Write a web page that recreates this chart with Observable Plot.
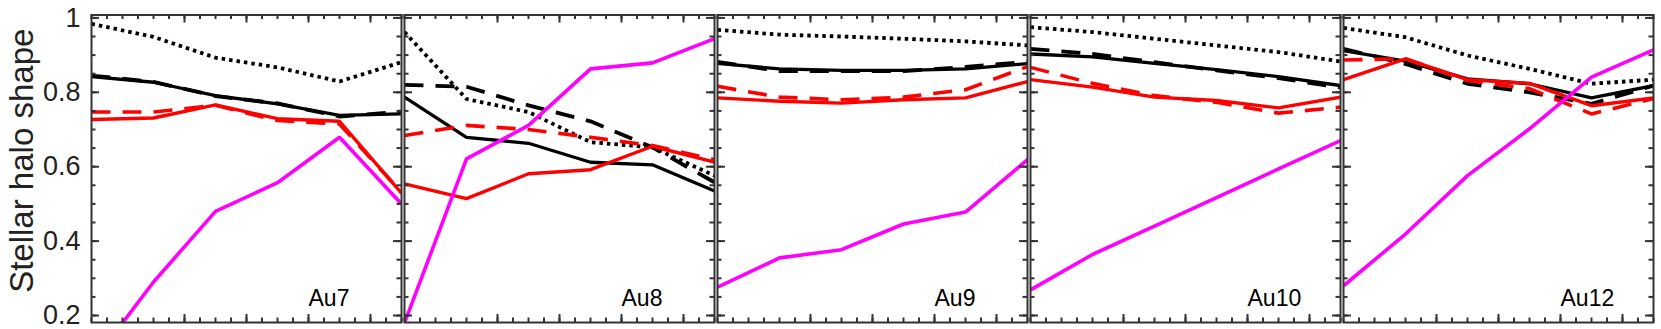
<!DOCTYPE html>
<html>
<head>
<meta charset="utf-8">
<script src="https://cdn.jsdelivr.net/npm/d3@7"></script>
<script src="https://cdn.jsdelivr.net/npm/@observablehq/plot@0.6"></script>
<style>
  html, body { margin: 0; padding: 0; background: #fff; }
  #chart svg { display: block; }
</style>
</head>
<body>
<div id="chart"></div>
<script>
// ---------- data ----------
const panels = ["Au7", "Au8", "Au9", "Au10", "Au12"];
const xPositions = [0, 1, 2, 3, 4, 5];

// one row per panel (Au7, Au8, Au9, Au10, Au12)
const blackSolid = [
  [0.842, 0.827, 0.791, 0.769, 0.738, 0.742],
  [0.787, 0.679, 0.663, 0.612, 0.605, 0.535],
  [0.878, 0.863, 0.859, 0.859, 0.863, 0.877],
  [0.903, 0.895, 0.878, 0.861, 0.842, 0.818],
  [0.912, 0.884, 0.836, 0.823, 0.785, 0.818]
];
const blackDashed = [
  [0.845, 0.828, 0.790, 0.770, 0.735, 0.748],
  [0.820, 0.815, 0.765, 0.722, 0.652, 0.558],
  [0.882, 0.857, 0.857, 0.857, 0.868, 0.882],
  [0.917, 0.903, 0.881, 0.859, 0.838, 0.813],
  [0.917, 0.876, 0.823, 0.800, 0.769, 0.818]
];
const blackDotted = [
  [0.984, 0.949, 0.893, 0.867, 0.829, 0.881],
  [0.962, 0.782, 0.747, 0.666, 0.652, 0.576],
  [0.968, 0.955, 0.950, 0.944, 0.937, 0.926],
  [0.975, 0.962, 0.944, 0.926, 0.908, 0.883],
  [0.973, 0.948, 0.899, 0.863, 0.823, 0.834]
];
const redDashed = [
  [0.747, 0.747, 0.765, 0.724, 0.715, 0.531],
  [0.684, 0.711, 0.700, 0.679, 0.657, 0.619],
  [0.816, 0.787, 0.780, 0.787, 0.807, 0.869],
  [0.867, 0.824, 0.791, 0.773, 0.744, 0.760],
  [0.887, 0.890, 0.832, 0.810, 0.742, 0.783]
];
const redSolid = [
  [0.727, 0.731, 0.766, 0.729, 0.722, 0.529],
  [0.554, 0.514, 0.581, 0.592, 0.655, 0.612],
  [0.785, 0.776, 0.771, 0.780, 0.785, 0.829],
  [0.834, 0.814, 0.787, 0.778, 0.758, 0.787],
  [0.834, 0.890, 0.834, 0.824, 0.764, 0.785]
];
const magenta = [
  [0.070, 0.290, 0.480, 0.557, 0.679, 0.500],
  [0.180, 0.621, 0.711, 0.863, 0.879, 0.944],
  [0.276, 0.355, 0.377, 0.446, 0.478, 0.619],
  [0.269, 0.364, 0.440, 0.517, 0.594, 0.670],
  [0.280, 0.419, 0.576, 0.702, 0.841, 0.914]
];

const yTickLabels = [0.2, 0.4, 0.6, 0.8, 1.0];
const yMinorTicks = d3.range(0.2, 1.0001, 0.05).map(v => +v.toFixed(2));
const xMinorTicks = d3.range(0, 5.0001, 0.25);
const xMajorTicks = [1.5, 2.5, 3.5, 4.5];
const yTitle = "Stellar halo shape";

// ---------- tidy table ----------
function tidy(name, rows) {
  const out = [];
  rows.forEach((vals, p) => vals.forEach((v, i) => out.push({panel: panels[p], x: xPositions[i], y: v, series: name})));
  return out;
}
const series = {
  blackSolid: tidy("blackSolid", blackSolid),
  blackDashed: tidy("blackDashed", blackDashed),
  blackDotted: tidy("blackDotted", blackDotted),
  redDashed: tidy("redDashed", redDashed),
  redSolid: tidy("redSolid", redSolid),
  magenta: tidy("magenta", magenta)
};

// ---------- layout ----------
const W = 1661, H = 329;
const mL = 91, mR = 8, mT = 14.5, mB = 7;
const padInner = 3 / 313;
const panelW = (W - mL - mR) / (panels.length - padInner) * (1 - padInner);
const panelH = H - mT - mB;
const frameColor = "#333";
const majorLen = 8, minorLen = 4.5;

const lineOpts = (stroke, width, dash) => ({
  x: "x", y: "y", fx: "panel", stroke, strokeWidth: width,
  strokeDasharray: dash, clip: true, strokeLinejoin: "miter", strokeLinecap: "butt"
});

const chart = Plot.plot({
  width: W,
  height: H,
  marginLeft: mL,
  marginRight: mR,
  marginTop: mT,
  marginBottom: mB,
  style: {fontFamily: "'Liberation Sans', Arial, Helvetica, sans-serif", background: "#fff"},
  fx: {domain: panels, paddingInner: padInner, paddingOuter: 0, round: false, axis: null, label: null},
  x: {domain: [0, 5], axis: null},
  y: {domain: [0.1812, 1.0078], axis: null},
  marks: [
    Plot.line(series.blackSolid, lineOpts("#000", 3.3, null)),
    Plot.line(series.blackDashed, lineOpts("#000", 3.8, "19,12")),
    Plot.line(series.blackDotted, lineOpts("#000", 3.8, "3.5,4")),
    Plot.line(series.redDashed, lineOpts("#ff0000", 3.6, "19,12")),
    Plot.line(series.redSolid, lineOpts("#ff0000", 3.4, null)),
    Plot.line(series.magenta, lineOpts("#ff00ff", 3.6, null)),

    // inward ticks: left / right
    Plot.tickY(yMinorTicks, {y: d => d, insetRight: panelW - minorLen, stroke: frameColor, strokeWidth: 2}),
    Plot.tickY(yMinorTicks, {y: d => d, insetLeft: panelW - minorLen, stroke: frameColor, strokeWidth: 2}),
    Plot.tickY(yTickLabels, {y: d => d, insetRight: panelW - majorLen, stroke: frameColor, strokeWidth: 2}),
    Plot.tickY(yTickLabels, {y: d => d, insetLeft: panelW - majorLen, stroke: frameColor, strokeWidth: 2}),
    // inward ticks: bottom / top
    Plot.tickX(xMinorTicks, {x: d => d, insetTop: panelH - minorLen, stroke: frameColor, strokeWidth: 2}),
    Plot.tickX(xMinorTicks, {x: d => d, insetBottom: panelH - minorLen, stroke: frameColor, strokeWidth: 2}),
    Plot.tickX(xMajorTicks, {x: d => d, insetTop: panelH - majorLen, stroke: frameColor, strokeWidth: 2}),
    Plot.tickX(xMajorTicks, {x: d => d, insetBottom: panelH - majorLen, stroke: frameColor, strokeWidth: 2}),

    // y tick labels (first panel only)
    Plot.axisY({anchor: "left", ticks: yTickLabels, tickSize: 0, tickPadding: 11, fontSize: 27,
      tickFormat: d => String(+d.toFixed(1)), label: null, fill: "#222"}),

    // y title
    Plot.text([{panel: panels[0], t: yTitle}], {fx: "panel", text: "t", frameAnchor: "left",
      rotate: -90, dx: -59, dy: -8, lineAnchor: "bottom", textAnchor: "middle", fontSize: 33, fill: "#222"}),

    // panel labels
    Plot.text(panels, {fx: d => d, text: d => d, frameAnchor: "bottom-left", dx: 217, dy: -17,
      lineAnchor: "bottom", textAnchor: "start", fontSize: 23, fill: "#000"}),

    Plot.frame({stroke: frameColor, strokeWidth: 2})
  ]
});
document.getElementById("chart").appendChild(chart);
</script>
</body>
</html>
